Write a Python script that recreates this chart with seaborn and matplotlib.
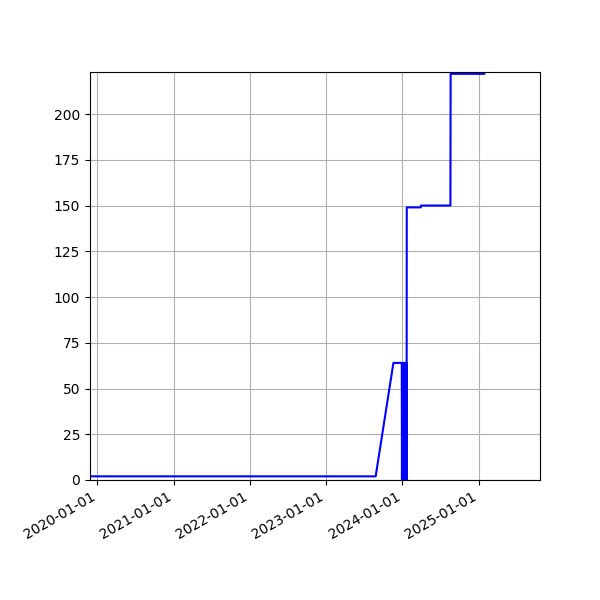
import pandas as pd
import numpy as np
import matplotlib
matplotlib.use("Agg")
import matplotlib.pyplot as plt
import matplotlib.dates as mdates
import seaborn as sns

### data ###
dates = ["2019-11-27", "2023-08-26", "2023-11-19", "2023-12-29",
         "2023-12-30", "2023-12-31", "2024-01-01", "2024-01-02", "2024-01-03",
         "2024-01-04", "2024-01-05", "2024-01-06", "2024-01-07", "2024-01-08",
         "2024-01-09", "2024-01-10", "2024-01-11", "2024-01-12", "2024-01-13",
         "2024-01-14", "2024-01-15", "2024-01-16", "2024-01-17", "2024-01-18",
         "2024-01-19", "2024-01-20", "2024-01-21", "2024-01-22",
         "2024-03-29", "2024-03-30", "2024-08-18", "2024-08-19", "2025-01-27"]
values = [2, 2, 64, 64,
          0, 64, 0, 64, 0,
          64, 0, 64, 0, 64,
          0, 64, 0, 64, 0,
          64, 0, 64, 0, 64,
          0, 64, 0, 149,
          149, 150, 150, 222, 222]

x_start = "2019-11-27"
x_end = "2025-10-21"
y_top = 223

df = pd.DataFrame({"date": pd.to_datetime(dates), "value": values})

### plot ###
fig, ax = plt.subplots(figsize=(6, 6), dpi=100)
sns.lineplot(data=df, x="date", y="value", color="blue", linewidth=1.5,
             estimator=None, ax=ax)
ax.set_xlim(pd.Timestamp(x_start), pd.Timestamp(x_end))
ax.set_ylim(0, y_top)
ax.xaxis.set_major_locator(mdates.YearLocator())
ax.xaxis.set_major_formatter(mdates.DateFormatter("%Y-%m-%d"))
ax.set_xlabel("")
ax.set_ylabel("")
ax.grid(True)
fig.autofmt_xdate()
fig.subplots_adjust(left=0.15, right=0.9, top=0.88, bottom=0.2)

plt.savefig("out.png", dpi=100)
